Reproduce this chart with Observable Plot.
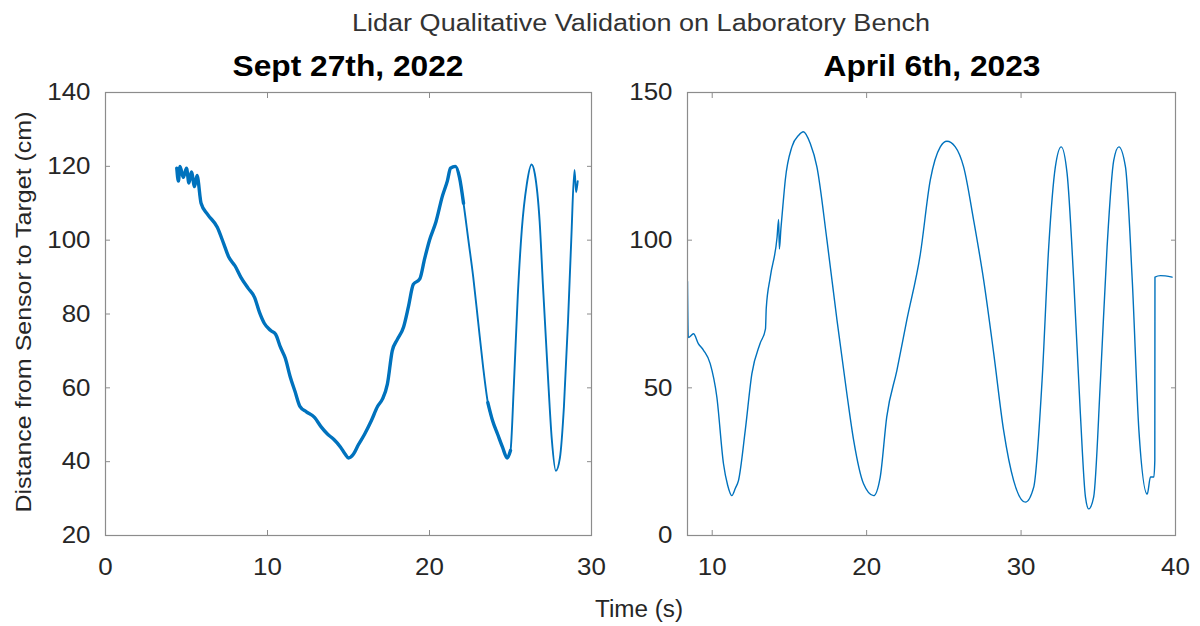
<!DOCTYPE html>
<html>
<head>
<meta charset="utf-8">
<script src="https://cdn.jsdelivr.net/npm/d3@7"></script>
<script src="https://cdn.jsdelivr.net/npm/@observablehq/plot@0.6"></script>
<style>
  html, body { margin: 0; padding: 0; background: #fff; }
  #wrap { position: relative; width: 1200px; height: 626px; overflow: hidden; background: #fff; }
  .panel { position: absolute; top: 0; }
  #overlay { position: absolute; left: 0; top: 0; pointer-events: none; }
</style>
</head>
<body>
<div id="wrap">
  <div id="leftPanel" class="panel" style="left:0"></div>
  <div id="rightPanel" class="panel" style="left:600px"></div>
  <svg id="overlay" width="1200" height="626"></svg>
</div>
<script>
// ---- Data ----
const figTitle = "Lidar Qualitative Validation on Laboratory Bench";
const leftTitle = "Sept 27th, 2022";
const rightTitle = "April 6th, 2023";
const xLabel = "Time (s)";
const yLabel = "Distance from Sensor to Target (cm)";

const leftXTicks = [0, 10, 20, 30];
const leftYTicks = [20, 40, 60, 80, 100, 120, 140];
const rightXTicks = [10, 20, 30, 40];
const rightYTicks = [0, 50, 100, 150];

// Sept 27th, 2022 series: time (s) and distance (cm)
const leftTime = [4.4,4.5,4.6,4.8,5.0,5.15,5.3,5.5,5.65,5.9,6.3,6.9,7.3,7.6,8.0,8.35,8.8,9.2,9.5,9.8,10.2,10.5,10.8,11.1,11.4,11.7,12.0,12.4,12.9,13.3,13.7,14.1,14.5,14.8,15.0,15.3,15.6,16.0,16.4,16.8,17.1,17.4,17.7,18.0,18.4,18.7,19.0,19.4,19.7,20.0,20.4,20.8,21.1,21.3,21.6,21.85,22.1,22.4,22.7,23.0,23.3,23.6,23.9,24.2,24.5,24.8,25.0,25.2,25.45,25.7,26.0,26.3,26.5,26.8,27.0,27.3,27.55,27.8,28.05,28.3,28.55,28.75,28.95,29.05,29.15];
const leftDist = [119.5,116,120,117,119.5,115.5,118.5,114.5,117.5,110,107,103.5,99,95.5,93,90,87,84.5,80.5,77.5,75.5,74.5,71,68,63,59,55,53.5,52,49.5,47.5,46,44,42,41,42,44.5,47.5,51,55,57,61,70,73,76.5,82,88,89.5,95,100,105,112,116,119.5,120,117,110,100,90,78,66,56,51,47.5,44,41,43,60,85,103,115,120.5,118,105,88,64,46,37.5,41,55,78,100,119,113,116];

// April 6th, 2023 series: time (s) and distance (cm)
const rightTime = [8.4,8.45,8.79,9.1,9.44,9.87,10.3,10.73,11.0,11.27,11.5,11.7,12.14,12.57,13.1,13.45,13.5,13.76,14.2,14.3,14.35,14.45,14.6,14.73,15.16,15.6,15.9,16.35,16.78,17.43,18.08,18.72,19.16,19.8,20.45,20.88,21.3,21.96,22.6,23.48,24.12,24.77,25.2,25.74,26.28,26.93,27.58,28.23,28.87,29.52,30.28,30.82,31.36,31.79,32.22,32.6,32.98,33.41,33.84,34.17,34.38,34.7,35.14,35.57,36.0,36.33,36.76,37.2,37.63,38.17,38.38,38.6,38.66,38.67,39.03,39.78];
const rightDist = [86,67,68.3,65,62.7,58.2,46.9,24.3,17,13.5,16,18.6,35.6,54.8,65,70,77,87.5,101,107,97,104,113,120.3,131.6,135.5,136.7,132.7,124.8,100,72.9,48,32.2,17.5,13.5,19.8,40.1,55.9,72.9,95.4,120.3,131.6,133.5,131.6,124.8,106.7,86.4,61.6,35.6,18.6,11.3,16.4,52.5,97.7,124.8,131.6,122.6,86.4,41.2,13,9,13,52.5,97.7,127,131.6,124.8,86.4,35.6,14,19.8,19.8,25.4,87.5,88,87.5];

const leftData = leftTime.map((t, i) => ({t, d: leftDist[i]}));
const rightData = rightTime.map((t, i) => ({t, d: rightDist[i]}));

const lineColor = "#0072BD";
const frameColor = "#8c8c8c";
const textColor = "#262626";
const font = "'Liberation Sans', Arial, Helvetica, sans-serif";

function panel(lineMarks, xDomain, yDomain, xTicks, yTicks, margins) {
  const noLabel = () => "";
  const svg = Plot.plot({
    width: 600,
    height: 626,
    marginLeft: margins.left,
    marginRight: margins.right,
    marginTop: 92,
    marginBottom: 91,
    x: {domain: xDomain, label: null},
    y: {domain: yDomain, label: null},
    style: {fontFamily: font, fontSize: "24px", color: textColor, background: "transparent", overflow: "visible"},
    marks: [
      ...lineMarks,
      Plot.frame({stroke: frameColor, strokeWidth: 1.2}),
      Plot.axisX(xTicks, {anchor: "bottom", tickSize: 0, tickPadding: 22, label: null}),
      Plot.axisX(xTicks, {anchor: "bottom", tickSize: -5, tickFormat: noLabel, label: null, stroke: frameColor}),
      Plot.axisX(xTicks, {anchor: "top", tickSize: -5, tickFormat: noLabel, label: null, stroke: frameColor}),
      Plot.axisY(yTicks, {anchor: "left", tickSize: 0, tickPadding: 15, label: null}),
      Plot.axisY(yTicks, {anchor: "left", tickSize: -5, tickFormat: noLabel, label: null, stroke: frameColor}),
      Plot.axisY(yTicks, {anchor: "right", tickSize: -5, tickFormat: noLabel, label: null, stroke: frameColor})
    ]
  });
  svg.querySelectorAll('g[aria-label$="tick label"] text').forEach(t => {
    t.setAttribute("transform", (t.getAttribute("transform") || "") + " scale(1.08,1)");
  });
  return svg;
}

// the slow, noisy parts of the 2022 trace look thicker in the reference
const noisyPart = d => d.t <= 22.1 ? "a" : (d.t >= 23.55 && d.t <= 25.0 ? "b" : null);
const leftMarks = [
  Plot.line(leftData, {x: "t", y: "d", stroke: lineColor, strokeWidth: 1.9, curve: "monotone-x", strokeLinejoin: "round", clip: true}),
  Plot.line(leftData, {filter: d => noisyPart(d) !== null, z: noisyPart, x: "t", y: "d", stroke: lineColor, strokeWidth: 3.4, curve: "monotone-x", strokeLinejoin: "round", strokeLinecap: "round", clip: true})
];
const rightMarks = [
  Plot.line(rightData, {x: "t", y: "d", stroke: lineColor, strokeWidth: 1.4, curve: "monotone-x", strokeLinejoin: "round", clip: true})
];

document.getElementById("leftPanel").appendChild(
  panel(leftMarks, [0, 30], [20, 140], leftXTicks, leftYTicks, {left: 105, right: 9})
);
document.getElementById("rightPanel").appendChild(
  panel(rightMarks, [8.4, 40], [0, 150], rightXTicks, rightYTicks, {left: 87, right: 25})
);

// ---- Overlay texts ----
const ov = d3.select("#overlay");
function addText(str, x, y, size, weight, fill, len, rotate) {
  const t = ov.append("text")
    .attr("x", x).attr("y", y)
    .attr("text-anchor", "middle")
    .attr("font-family", font)
    .attr("font-size", size)
    .attr("font-weight", weight)
    .attr("fill", fill)
    .attr("textLength", len)
    .attr("lengthAdjust", "spacingAndGlyphs")
    .text(str);
  if (rotate) t.attr("transform", `rotate(${rotate},${x},${y})`);
}
addText(figTitle, 641, 31, 23, "normal", "#333333", 578);
addText(leftTitle, 348, 76, 29, "bold", "#000000", 231);
addText(rightTitle, 932, 76, 29, "bold", "#000000", 217);
addText(xLabel, 639, 617, 23, "normal", textColor, 88);
addText(yLabel, 31, 312, 22, "normal", textColor, 401, -90);
</script>
</body>
</html>
